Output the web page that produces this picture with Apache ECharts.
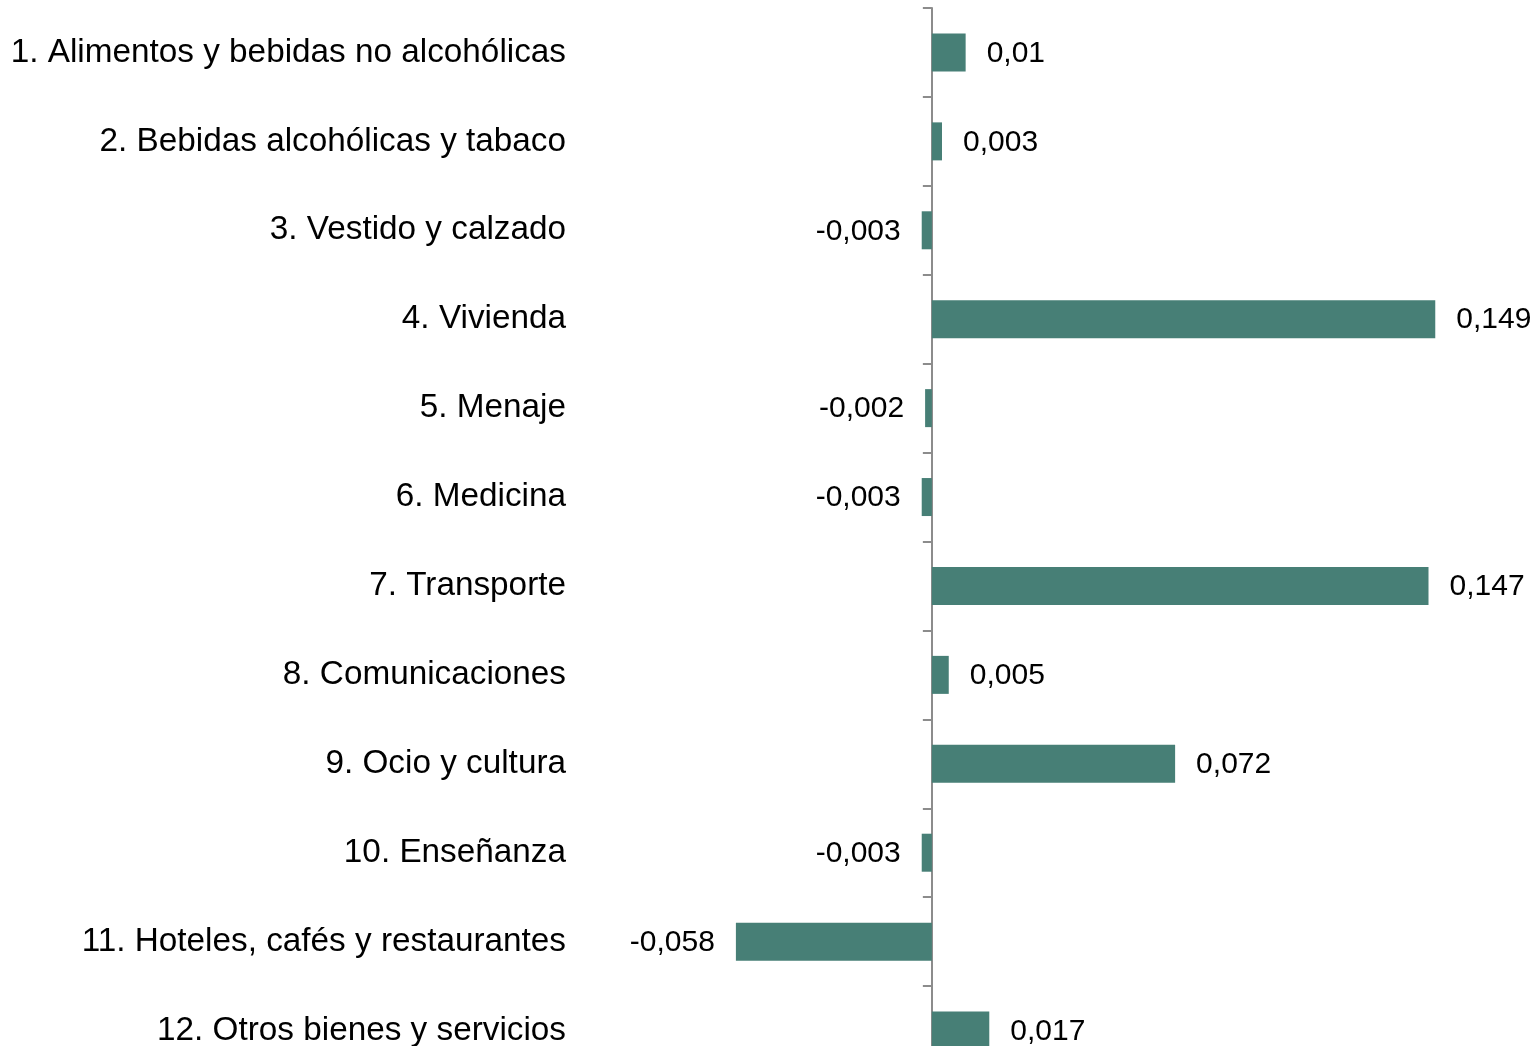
<!DOCTYPE html>
<html>
<head>
<meta charset="utf-8">
<script src="https://cdn.jsdelivr.net/npm/echarts@6/dist/echarts.min.js"></script>
<style>
html,body{margin:0;padding:0;background:#fff;}
#chart{width:1539px;height:1046px;}
</style>
</head>
<body>
<div id="chart"></div>
<script>
const categories = [
  "1. Alimentos y bebidas no alcohólicas",
  "2. Bebidas alcohólicas y tabaco",
  "3. Vestido y calzado",
  "4. Vivienda",
  "5. Menaje",
  "6. Medicina",
  "7. Transporte",
  "8. Comunicaciones",
  "9. Ocio y cultura",
  "10. Enseñanza",
  "11. Hoteles, cafés y restaurantes",
  "12. Otros bienes y servicios"
];
const values = [0.01, 0.003, -0.003, 0.149, -0.002, -0.003, 0.147, 0.005, 0.072, -0.003, -0.058, 0.017];

const chart = echarts.init(document.getElementById('chart'));
const fontFamily = '"Liberation Sans", Arial, sans-serif';
chart.setOption({
  animation: false,
  backgroundColor: '#ffffff',
  grid: {left: 594, right: -1, top: 8, bottom: -29, containLabel: false, outerBoundsMode: 'none'},
  xAxis: {
    type: 'value', min: -0.1, max: 0.18, show: false,
    splitLine: {show: false}
  },
  yAxis: {
    type: 'category', data: categories, inverse: true,
    axisLine: {show: true, onZero: true, lineStyle: {color: '#8c8c8c', width: 2}},
    axisTick: {show: true, length: 9, lineStyle: {color: '#8c8c8c', width: 2}},
    axisLabel: {margin: 28, color: '#000', fontSize: 33.3, fontFamily: fontFamily, padding: [3, 0, 0, 0]}
  },
  series: [{
    type: 'bar',
    barWidth: 38,
    itemStyle: {color: '#477f76'},
    data: values.map(v => ({
      value: v,
      label: {position: v < 0 ? 'left' : 'right'}
    })),
    label: {
      show: true, distance: 21, color: '#000', fontSize: 30, fontFamily: fontFamily,
      offset: [0, 1],
      formatter: p => String(p.value).replace('.', ',')
    }
  }]
});
</script>
</body>
</html>
